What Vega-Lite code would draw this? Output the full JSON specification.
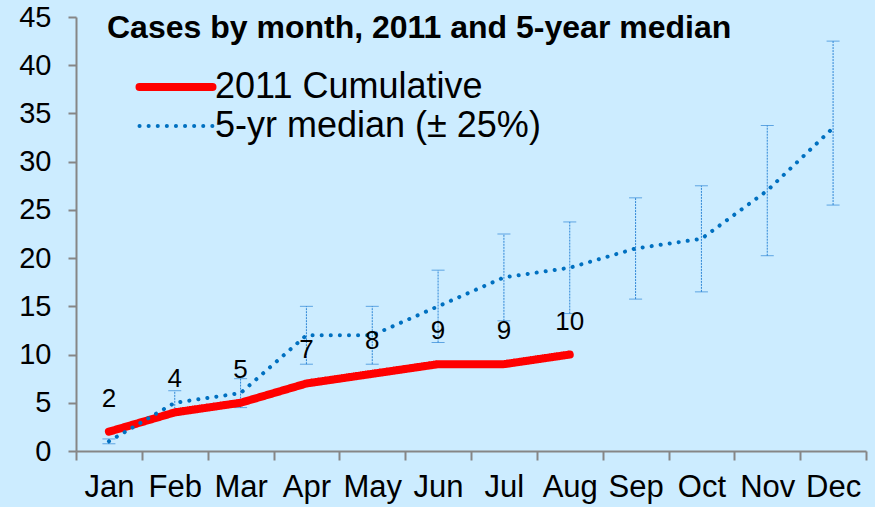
{
  "$schema": "https://vega.github.io/schema/vega-lite/v6.json",
  "width": 790,
  "height": 434,
  "autosize": {"type": "none"},
  "padding": {"left": 76, "top": 17, "right": 9, "bottom": 56},
  "background": "#CCECFF",
  "config": {"view": {"stroke": null}, "font": "Liberation Sans"},
  "title": {
    "text": "Cases by month, 2011 and 5-year median",
    "font": "Liberation Sans",
    "fontSize": 32,
    "fontWeight": "bold",
    "color": "#000000",
    "anchor": "start",
    "frame": "group",
    "baseline": "alphabetic",
    "offset": 0,
    "dx": 31,
    "dy": 67
  },
  "data": {
    "values": [
      {"month": "Jan", "series": "2011 Cumulative", "value": 2},
      {"month": "Feb", "series": "2011 Cumulative", "value": 4},
      {"month": "Mar", "series": "2011 Cumulative", "value": 5},
      {"month": "Apr", "series": "2011 Cumulative", "value": 7},
      {"month": "May", "series": "2011 Cumulative", "value": 8},
      {"month": "Jun", "series": "2011 Cumulative", "value": 9},
      {"month": "Jul", "series": "2011 Cumulative", "value": 9},
      {"month": "Aug", "series": "2011 Cumulative", "value": 10},
      {"month": "Jan", "series": "5-yr median (± 25%)", "value": 1, "low": 0.75, "high": 1.25},
      {"month": "Feb", "series": "5-yr median (± 25%)", "value": 5, "low": 3.75, "high": 6.25},
      {"month": "Mar", "series": "5-yr median (± 25%)", "value": 6, "low": 4.5, "high": 7.5},
      {"month": "Apr", "series": "5-yr median (± 25%)", "value": 12, "low": 9, "high": 15},
      {"month": "May", "series": "5-yr median (± 25%)", "value": 12, "low": 9, "high": 15},
      {"month": "Jun", "series": "5-yr median (± 25%)", "value": 15, "low": 11.25, "high": 18.75},
      {"month": "Jul", "series": "5-yr median (± 25%)", "value": 18, "low": 13.5, "high": 22.5},
      {"month": "Aug", "series": "5-yr median (± 25%)", "value": 19, "low": 14.25, "high": 23.75},
      {"month": "Sep", "series": "5-yr median (± 25%)", "value": 21, "low": 15.75, "high": 26.25},
      {"month": "Oct", "series": "5-yr median (± 25%)", "value": 22, "low": 16.5, "high": 27.5},
      {"month": "Nov", "series": "5-yr median (± 25%)", "value": 27, "low": 20.25, "high": 33.75},
      {"month": "Dec", "series": "5-yr median (± 25%)", "value": 33.5, "low": 25.5, "high": 42.5}
    ]
  },
  "encoding": {
    "x": {
      "field": "month",
      "type": "nominal",
      "sort": ["Jan","Feb","Mar","Apr","May","Jun","Jul","Aug","Sep","Oct","Nov","Dec"],
      "scale": {"paddingInner": 0, "paddingOuter": 0},
      "axis": {
        "title": null,
        "labelAngle": 0,
        "tickBand": "extent",
        "labelFontSize": 31,
        "labelColor": "#000000",
        "labelPadding": 12,
        "domainColor": "#868686",
        "domainWidth": 2,
        "tickColor": "#868686",
        "tickWidth": 2,
        "tickSize": 9,
        "grid": false
      }
    }
  },
  "layer": [
    {
      "transform": [{"filter": "datum.low != null"}],
      "mark": {
        "type": "errorbar",
        "color": "#2E86D6",
        "ticks": {"size": 13, "strokeWidth": 1, "strokeDash": [2, 1]},
        "rule": {"strokeWidth": 1, "strokeDash": [2, 1]}
      },
      "encoding": {
        "y": {"field": "low", "type": "quantitative", "scale": {"domain": [0, 45], "nice": false}, "title": null},
        "y2": {"field": "high"}
      }
    },
    {
      "mark": {"type": "line", "strokeCap": "round", "strokeJoin": "round"},
      "encoding": {
        "y": {
          "field": "value",
          "type": "quantitative",
          "scale": {"domain": [0, 45], "nice": false},
          "axis": {
            "title": null,
            "values": [0, 5, 10, 15, 20, 25, 30, 35, 40, 45],
            "grid": false,
            "labelFontSize": 29,
            "labelColor": "#000000",
            "labelPadding": 17,
            "domainColor": "#868686",
            "domainWidth": 2,
            "tickColor": "#868686",
            "tickWidth": 2,
            "tickSize": 8
          }
        },
        "color": {
          "field": "series",
          "type": "nominal",
          "scale": {"domain": ["2011 Cumulative", "5-yr median (± 25%)"], "range": ["#FF0000", "#0070C0"]},
          "legend": {
            "title": null,
            "orient": "none",
            "legendX": 82,
            "legendY": 52,
            "padding": 0,
            "symbolType": "M-3.65,0H3.65",
            "symbolSize": 400,
            "labelFontSize": 36,
            "labelColor": "#000000",
            "labelOffset": 21,
            "labelLimit": 0,
            "rowPadding": 3,
            "encode": {"symbols": {"update": {"strokeCap": {"value": "round"}, "fill": {"value": "transparent"}}}}
          }
        },
        "strokeWidth": {
          "field": "series",
          "type": "nominal",
          "scale": {"domain": ["2011 Cumulative", "5-yr median (± 25%)"], "range": [8, 4]},
          "legend": null
        },
        "strokeDash": {
          "field": "series",
          "type": "nominal",
          "scale": {"domain": ["2011 Cumulative", "5-yr median (± 25%)"], "range": [[1, 0], [0.1, 9]]},
          "legend": null
        }
      }
    },
    {
      "transform": [{"filter": "datum.series == '2011 Cumulative'"}],
      "mark": {"type": "text", "fontSize": 26, "dy": -33, "baseline": "middle", "color": "#000000"},
      "encoding": {
        "y": {"field": "value", "type": "quantitative"},
        "text": {"field": "value", "type": "quantitative"}
      }
    }
  ]
}
